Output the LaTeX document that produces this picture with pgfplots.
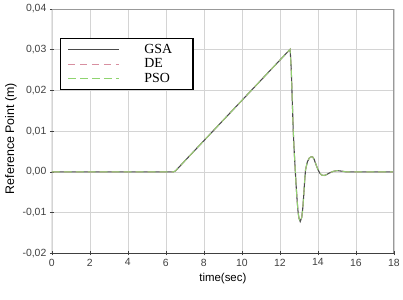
\documentclass[border=0pt]{standalone}
\usepackage{pgfplots}
\pgfplotsset{compat=1.18}
\usepackage{pgfplotstable}
\usepackage{fontspec}
\setmainfont{Liberation Sans}
\newfontfamily\legfont{Liberation Serif}
\definecolor{gsa}{HTML}{4A4A4A}
\definecolor{de}{HTML}{D88FA0}
\definecolor{pso}{HTML}{8FD46F}
\definecolor{gridc}{HTML}{D4D4D4}
\definecolor{tickc}{HTML}{404040}
\pgfplotstableread{
t y
0 0
6.40 0
6.50 0.0002
6.70 0.0012
7.00 0.0027
12.54 0.0301
12.60 0.0250
12.65 0.0180
12.70 0.0105
12.75 0.0054
12.80 0.0012
12.85 -0.0030
12.90 -0.0065
12.95 -0.0095
13.00 -0.0113
13.07 -0.0122
13.15 -0.0112
13.20 -0.0092
13.25 -0.0062
13.30 -0.0025
13.35 0.0005
13.45 0.0025
13.55 0.0034
13.65 0.0037
13.72 0.0037
13.80 0.0031
13.90 0.0018
14.00 0.0006
14.10 -0.0003
14.20 -0.0008
14.33 -0.0009
14.45 -0.0007
14.60 -0.0003
14.80 0.0001
15.00 0.0003
15.20 0.0002
15.50 0
18 0
}\datatable
\newcommand{\lent}[1]{\hspace{25bp}\makebox[42bp][l]{#1}}
\begin{document}
\begin{tikzpicture}
\begin{axis}[
  scale only axis,
  width=343bp, height=245bp,
  xmin=0, xmax=18, ymin=-0.02, ymax=0.04,
  xtick={0,2,...,18},
  ytick={-0.02,-0.01,0,0.01,0.02,0.03,0.04},
  grid=major,
  major grid style={gridc, line width=0.6pt},
  axis line style={draw=none},
  tick style={tickc, line width=0.6pt},
  tick align=center,
  major tick length=4bp,
  xtick pos=bottom, ytick pos=left,
  tick label style={font=\fontsize{10.5}{12}\selectfont, text=tickc},
  /pgf/number format/assume math mode=true,
  yticklabel style={/pgf/number format/.cd, fixed, fixed zerofill, precision=2, use comma},
  xticklabel style={/pgf/number format/.cd, fixed, precision=0},
  scaled y ticks=false,
  xlabel={time(sec)},
  ylabel={Reference Point (m)},
  xlabel style={font=\fontsize{11.5}{13}\selectfont, text=black, yshift=0bp},
  ylabel style={font=\fontsize{12.5}{14}\selectfont, text=black, at={(ticklabel cs:0.47)}, yshift=-1bp},
  legend style={at={(rel axis cs:0.0233,0.8816)}, anchor=north west, draw=black, line width=1.5pt,
    font=\legfont\fontsize{14}{15}\selectfont, inner xsep=7bp, inner ysep=5.5bp,
    row sep=4bp, column sep=0pt, nodes={inner sep=0pt}},
  legend cell align=left,
  legend image code/.code={\draw[#1, line width=1pt] (0bp,0bp) -- (51bp,0bp);},
]
\addplot[draw=gsa, line width=1.1pt] table[x=t,y=y]{\datatable};
\addlegendentry{\lent{GSA}}
\addplot[draw=de, line width=0.9pt, dash pattern=on 7bp off 5bp] table[x=t,y=y]{\datatable};
\addlegendentry{\lent{DE}}
\addplot[draw=pso, line width=0.9pt, dash pattern=on 8bp off 4bp] table[x=t,y=y]{\datatable};
\addlegendentry{\lent{PSO}}
\draw[tickc, line width=0.8pt] (rel axis cs:0,0) -- (rel axis cs:1,0);
\draw[tickc, line width=0.8pt] (rel axis cs:0,0) -- (rel axis cs:0,1);
\draw[gray!80, line width=0.8pt] (rel axis cs:0,1) -- (rel axis cs:1,1) -- (rel axis cs:1,0);
\end{axis}
\path (current axis.south west) ++(-52bp,-46bp) coordinate (bbA);
\path (current axis.north east) ++(8bp,9bp) coordinate (bbB);
\useasboundingbox (bbA) rectangle (bbB);
\end{tikzpicture}
\end{document}
